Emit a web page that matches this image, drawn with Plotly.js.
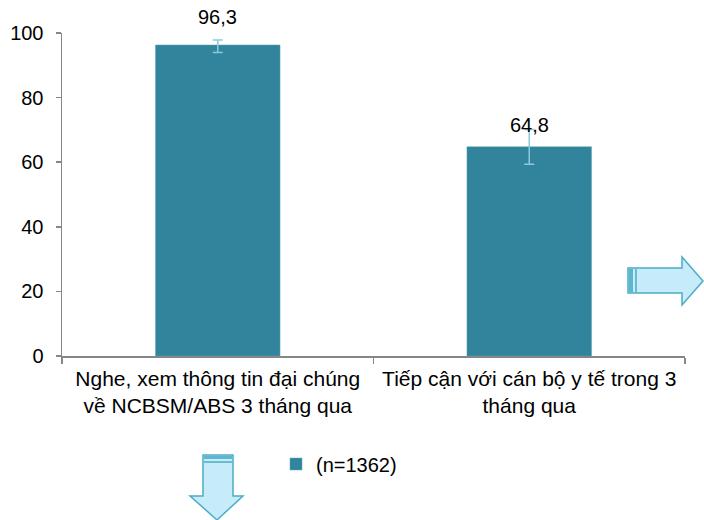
<!DOCTYPE html>
<html>
<head>
<meta charset="utf-8">
<script src="https://cdn.plot.ly/plotly-3.0.1.min.js"></script>
<style>html,body{margin:0;padding:0;background:#fff}#chart{width:704px;height:520px}</style>
</head>
<body>
<div id="chart"></div>
<script>
var categories = ["Nghe, xem thông tin đại chúng<br>về NCBSM/ABS 3 tháng qua", "Tiếp cận với cán bộ y tế trong 3<br>tháng qua"];
var values = [96.3, 64.8];
var valueLabels = ["96,3", "64,8"];
var errPlus = [1.5, 5.3];
var errMinus = [2.3, 5.4];
var seriesName = "(n=1362)";
var yTicks = [0, 20, 40, 60, 80, 100];

var L = 62, R = 19, T = 33, B = 164, W = 704, H = 520;
var pw = W - L - R, ph = H - T - B;
function px(x) { return (x - L) / pw; }
function py(y) { return (H - B - y) / ph; }
function path(pts) {
  return pts.map(function (p, i) { return (i ? 'L' : 'M') + px(p[0]).toFixed(4) + ',' + py(p[1]).toFixed(4); }).join(' ') + ' Z';
}

var trace = {
  type: 'bar',
  x: categories,
  y: values,
  name: seriesName,
  width: 0.4,
  marker: { color: '#31849B', line: { color: '#5FA8BC', width: 0.5 } },
  error_y: { type: 'data', symmetric: false, array: errPlus, arrayminus: errMinus, color: '#8BCADB', thickness: 1.5, width: 5 },
  hoverinfo: 'none'
};

var labelShift = [15, 9];
var annotations = values.map(function (v, i) {
  return { x: categories[i], y: v, text: valueLabels[i], showarrow: false, yanchor: 'bottom', yshift: labelShift[i],
    font: { family: 'Liberation Sans, Arial, sans-serif', size: 20, color: '#000' } };
});

var arrowFill = '#C6ECFA', arrowLine = '#4BACC6';
var shapes = [
  { type: 'path', xref: 'paper', yref: 'paper', path: path([[628,268],[682,268],[682,257],[703,281],[682,305],[682,293],[628,293]]),
    fillcolor: arrowFill, line: { color: arrowLine, width: 1.5 } },
  { type: 'rect', xref: 'paper', yref: 'paper', x0: px(629), x1: px(633), y0: py(269), y1: py(292), fillcolor: '#4BACC6', line: { width: 0 }, opacity: 0.85 },
  { type: 'line', xref: 'paper', yref: 'paper', x0: px(636), x1: px(636), y0: py(269), y1: py(292), line: { color: '#4BACC6', width: 1.5 } },
  { type: 'path', xref: 'paper', yref: 'paper', path: path([[203,455],[233,455],[233,496],[243,496],[217,520],[190,496],[203,496]]),
    fillcolor: arrowFill, line: { color: arrowLine, width: 1.5 } },
  { type: 'rect', xref: 'paper', yref: 'paper', x0: px(204), x1: px(232), y0: py(456), y1: py(459), fillcolor: '#4BACC6', line: { width: 0 }, opacity: 0.85 },
  { type: 'line', xref: 'paper', yref: 'paper', x0: px(204), x1: px(232), y0: py(462), y1: py(462), line: { color: '#4BACC6', width: 1.5 } }
];

var layout = {
  width: W, height: H,
  margin: { l: L, r: R, t: T, b: B },
  paper_bgcolor: '#fff', plot_bgcolor: '#fff',
  font: { family: 'Liberation Sans, Arial, sans-serif', size: 20, color: '#000' },
  showlegend: true,
  legend: { orientation: 'h', x: px(276), y: py(464), xanchor: 'left', yanchor: 'middle', font: { size: 20 }, itemwidth: 30 },
  xaxis: { type: 'category', showline: true, linecolor: '#868686', linewidth: 1.5, ticks: 'outside', tickson: 'boundaries', ticklen: 6,
    tickcolor: '#868686', tickwidth: 1.5, showgrid: false, tickfont: { size: 21 }, ticklabelstandoff: 3, fixedrange: true },
  yaxis: { range: [0, 100], tickvals: yTicks, showline: true, linecolor: '#868686', linewidth: 1.5, ticks: 'outside', ticklen: 5,
    tickcolor: '#868686', tickwidth: 1.5, showgrid: false, zeroline: false, tickfont: { size: 20 }, ticklabelstandoff: 8, fixedrange: true },
  annotations: annotations,
  shapes: shapes,
  bargap: 0.6
};

Plotly.newPlot('chart', [trace], layout, { displayModeBar: false, staticPlot: true });
</script>
</body>
</html>
